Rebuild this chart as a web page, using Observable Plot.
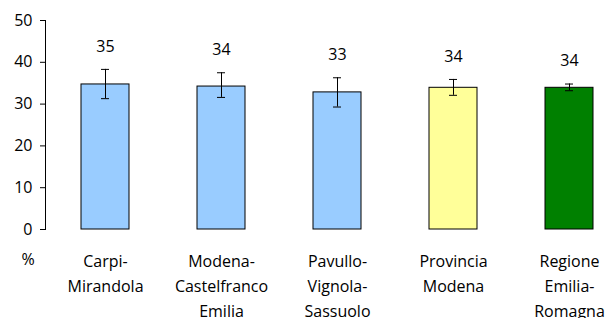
<!DOCTYPE html>
<html>
<head>
<meta charset="utf-8">
<script src="https://cdn.jsdelivr.net/npm/d3@7"></script>
<script src="https://cdn.jsdelivr.net/npm/@observablehq/plot@0.6"></script>
<style>
  html, body { margin: 0; padding: 0; background: #fff; overflow: hidden; }
</style>
</head>
<body>
<div id="chart"></div>
<script>
const categories = ["Carpi-\nMirandola", "Modena-\nCastelfranco\nEmilia", "Pavullo-\nVignola-\nSassuolo", "Provincia\nModena", "Regione\nEmilia-\nRomagna"];
const values = [34.7, 34.2, 32.8, 33.9, 33.9];
const lower = [31.3, 31.6, 29.3, 32.1, 33.2];
const upper = [38.3, 37.5, 36.3, 35.9, 34.8];
const valueLabels = ["35", "34", "33", "34", "34"];
const barColors = ["#99ccff", "#99ccff", "#99ccff", "#ffff99", "#008000"];
const yTicks = [0, 10, 20, 30, 40, 50];

const data = categories.map((c, i) => ({
  cat: c, value: values[i], lo: lower[i], hi: upper[i], label: valueLabels[i], color: barColors[i]
}));

const chart = Plot.plot({
  width: 609,
  height: 318,
  marginTop: 20,
  marginBottom: 89,
  marginLeft: 45,
  marginRight: 0,
  style: { fontFamily: "'Open Sans', sans-serif", fontSize: "16px", color: "#000", background: "#fff", overflow: "visible" },
  x: { domain: categories, range: [45.8, 627.8], paddingInner: 0.59, paddingOuter: 0.295, axis: null, label: null },
  y: { domain: [0, 50], axis: null, label: null },
  color: { type: "identity" },
  marks: [
    Plot.barY(data, { x: "cat", y: "value", fill: "color", stroke: "#000", strokeWidth: 1 }),
    Plot.ruleX(data, { x: "cat", y1: "lo", y2: "hi", stroke: "#000", strokeWidth: 1 }),
    Plot.tickY(data, { x: "cat", y: "lo", stroke: "#000", strokeWidth: 1, insetLeft: 20, insetRight: 20 }),
    Plot.tickY(data, { x: "cat", y: "hi", stroke: "#000", strokeWidth: 1, insetLeft: 20, insetRight: 20 }),
    Plot.text(data, { x: "cat", y: "hi", text: "label", dy: -23, fontSize: 16, fill: "#000" }),
    Plot.frame({ anchor: "left", stroke: "#000" }),
    Plot.axisY({ ticks: yTicks, tickSize: 5, tickPadding: 8, fontSize: 16, stroke: "#000", label: null }),
    Plot.axisX({ tickSize: 0, tickPadding: 20, lineHeight: 1.56, fontSize: 16, label: null }),
    Plot.text(["%"], { frameAnchor: "bottom-left", dx: -24, dy: 35, fontSize: 16, fill: "#000" })
  ]
});
document.getElementById("chart").appendChild(chart);
</script>
</body>
</html>
